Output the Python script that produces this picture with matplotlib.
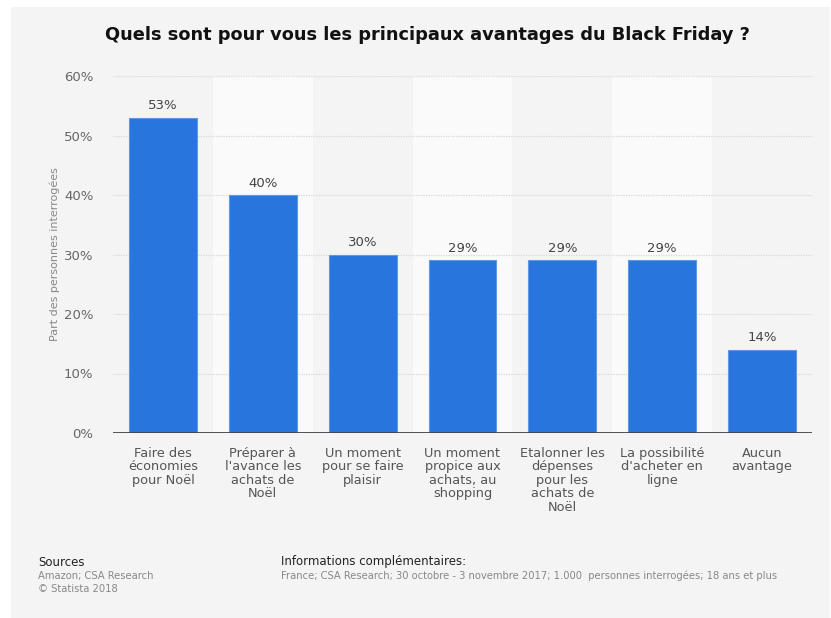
import matplotlib
matplotlib.use("Agg")
import matplotlib.pyplot as plt
from matplotlib.patches import Rectangle

categories = [
    "Faire des\néconomies\npour Noël",
    "Préparer à\nl'avance les\nachats de\nNoël",
    "Un moment\npour se faire\nplaisir",
    "Un moment\npropice aux\nachats, au\nshopping",
    "Etalonner les\ndépenses\npour les\nachats de\nNoël",
    "La possibilité\nd'acheter en\nligne",
    "Aucun\navantage",
]
values = [53, 40, 30, 29, 29, 29, 14]
yticks = [0, 10, 20, 30, 40, 50, 60]

W, H = 831, 618
fig = plt.figure(figsize=(W / 100, H / 100), dpi=100)
fig.patch.set_facecolor("white")
fig.add_artist(Rectangle((11 / W, 0), (830 - 11) / W, (618 - 7) / H,
                         transform=fig.transFigure, facecolor="#f4f4f4",
                         edgecolor="none", zorder=0))

left, right, top, bottom = 113, 812, 76, 433
ax = fig.add_axes([left / W, (H - bottom) / H, (right - left) / W, (bottom - top) / H])
ax.set_facecolor("none")
ax.set_xlim(-0.5, len(categories) - 0.5)
ax.set_ylim(0, 60)

for i in range(len(categories)):
    if i % 2 == 1:
        ax.axvspan(i - 0.5, i + 0.5, color="#fafafa", zorder=0, lw=0)

for y in yticks[1:]:
    ax.axhline(y, color="#d8d8d8", lw=0.9, ls=(0, (1, 1)), zorder=1)

x = list(range(len(categories)))
ax.bar(x, values, width=0.68, color="#2875dd", edgecolor="#5f98e6",
       linewidth=0.8, zorder=3)
ax.axhline(0, color="#444444", lw=1.3, zorder=4)

for xi, v in zip(x, values):
    ax.text(xi, v + 0.9, f"{v}%", ha="center", va="bottom", fontsize=9.5,
            color="#444444", zorder=5)

ax.set_yticks(yticks)
ax.set_yticklabels([f"{t}%" for t in yticks], fontsize=9.5, color="#666666")
ax.set_xticks(x)
ax.set_xticklabels(categories, fontsize=9.3, color="#555555", linespacing=1.05, va="top")
ax.tick_params(axis="both", length=0)
ax.tick_params(axis="y", pad=14)
ax.tick_params(axis="x", pad=10)
for s in ax.spines.values():
    s.set_visible(False)

ax.set_ylabel("Part des personnes interrogées", fontsize=8, color="#888888", labelpad=3)

fig.text(0.5 + 12 / W, 1 - 35 / H, "Quels sont pour vous les principaux avantages du Black Friday ?",
         ha="center", va="center", fontsize=12.8, fontweight="bold", color="#111111")

fig.text(38 / W, 1 - 562 / H, "Sources", fontsize=8.5, color="#222222", va="center")
fig.text(38 / W, 1 - 576 / H, "Amazon; CSA Research", fontsize=7.2, color="#888888", va="center")
fig.text(38 / W, 1 - 589 / H, "© Statista 2018", fontsize=7.2, color="#888888", va="center")
fig.text(281 / W, 1 - 562 / H, "Informations complémentaires:", fontsize=8.5, color="#222222", va="center")
fig.text(281 / W, 1 - 576 / H,
         "France; CSA Research; 30 octobre - 3 novembre 2017; 1.000  personnes interrogées; 18 ans et plus",
         fontsize=7.2, color="#888888", va="center")

fig.savefig("out.png", dpi=100, facecolor="white")
